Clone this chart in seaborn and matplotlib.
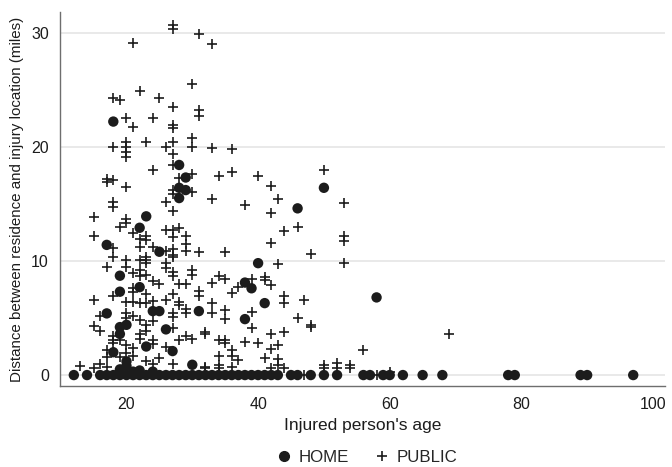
import matplotlib
matplotlib.use("Agg")
import matplotlib.pyplot as plt
from matplotlib.lines import Line2D
import seaborn as sns
import pandas as pd

# ---------------- data ----------------
home_age = [18, 28, 29, 28, 29, 28, 23, 22, 17, 25, 50, 46, 40, 38, 39, 41, 38, 58,
            19, 19, 22, 17, 19, 20, 19, 24, 25, 26, 23, 27, 18, 30, 31, 20,
            19, 20, 21, 22, 24]
home_dist = [22.2, 18.4, 17.3, 16.4, 16.2, 15.5, 13.9, 12.9, 11.4, 10.8, 16.4, 14.6, 9.8, 8.1, 7.6, 6.3, 4.9, 6.8,
             8.7, 7.3, 7.7, 5.4, 4.2, 4.4, 3.6, 5.6, 5.6, 4.0, 2.5, 2.1, 2.0, 0.9, 5.6, 1.2,
             0.5, 0.8, 0.3, 0.4, 0.3]
home_zero_age = [12, 14] + list(range(16, 44)) + [45, 46, 48, 50, 52, 56, 57, 59, 60, 62, 65, 68, 78, 79, 89, 90, 97]

public_age = [27, 27, 31, 33, 21, 30, 22, 18, 19, 25, 27, 31, 31, 20, 24, 21, 27, 27, 30,
              18, 20, 20, 23, 26, 27, 30, 20, 20, 27, 27, 24, 28, 30, 17, 17, 18, 20, 27, 27, 30,
              26, 18, 18, 27, 15, 20, 20, 19, 21, 15, 26, 27, 28, 27, 29, 29, 22, 22, 23, 23, 24,
              26, 27, 27, 29, 31, 18, 18, 23,
              33, 36, 34, 36, 40, 42, 50, 33, 38, 43, 42, 53, 46, 44, 53, 53, 42, 35, 48,
              43, 53, 33, 34, 35, 36, 37, 39, 41, 41, 42, 44, 44, 47, 33, 33, 35, 35, 39, 46,
              48, 48, 32, 32, 39, 44, 42, 34, 35, 35, 38, 40, 42, 43, 36, 36, 34, 37, 41, 43,
              43, 32, 34, 34, 36, 42, 44, 50, 50, 52, 52, 54, 54, 47,
              56, 69, 58, 60,
              17, 20, 20, 22, 23, 23, 26, 26, 27, 30, 30, 21, 22, 22, 23, 27, 27, 24, 25, 28,
              29, 21, 21, 23, 18, 15, 20, 21, 22, 23, 24, 26, 28, 28, 27, 31, 31, 29, 29, 27,
              27, 16, 20, 20, 21, 22, 24, 23, 23, 15, 16, 27, 28, 29, 30, 18, 18, 18, 19, 22,
              22, 24, 24, 20, 21, 26, 25, 17, 17, 19, 20, 21, 23, 24, 27, 16, 15, 13, 17, 32]
public_dist = [30.7, 30.3, 29.9, 29.0, 29.1, 25.5, 24.9, 24.3, 24.1, 24.3, 23.5, 23.2, 22.7, 22.5, 22.5, 21.7, 21.9, 21.6, 20.8,
               20.0, 20.4, 20.0, 20.4, 20.0, 20.4, 20.0, 19.5, 19.1, 19.4, 18.4, 18.0, 17.3, 17.6, 17.2, 16.9, 17.1, 16.5, 16.2, 15.9, 16.0,
               15.2, 15.2, 14.7, 14.4, 13.8, 13.7, 13.3, 13.0, 12.4, 12.2, 12.7, 12.7, 12.9, 12.1, 12.2, 11.5, 11.9, 11.2, 12.2, 11.8, 11.2,
               10.9, 11.0, 10.5, 10.9, 10.8, 11.1, 10.3, 10.3,
               19.9, 19.8, 17.4, 17.8, 17.4, 16.6, 18.0, 15.4, 14.9, 15.4, 14.2, 15.1, 13.0, 12.6, 12.2, 11.7, 11.6, 10.8, 10.6,
               9.7, 9.8, 8.1, 8.7, 8.4, 7.2, 7.7, 8.4, 8.6, 8.3, 7.9, 6.9, 6.3, 6.6, 6.3, 5.4, 5.7, 4.9, 5.5, 5.0,
               4.4, 4.2, 3.8, 3.6, 4.1, 3.8, 3.6, 3.1, 2.8, 3.1, 2.9, 2.8, 2.3, 2.6, 2.2, 1.7, 1.7, 1.3, 1.5, 1.4,
               0.9, 0.7, 0.9, 0.6, 0.7, 0.6, 0.6, 0.9, 0.6, 1.1, 0.6, 0.9, 0.6, 0.0,
               2.2, 3.6, 0.0, 0.3,
               9.5, 10.1, 9.5, 10.1, 10.1, 9.8, 9.8, 9.4, 10.3, 9.2, 8.8, 8.9, 9.2, 8.7, 8.8, 9.0, 8.7, 8.2, 8.0, 8.0,
               8.0, 7.6, 7.3, 7.1, 6.9, 6.6, 6.4, 6.4, 6.3, 6.3, 6.5, 6.6, 6.4, 6.1, 7.1, 7.4, 6.9, 5.8, 5.4, 5.4,
               5.1, 5.2, 5.4, 5.0, 5.2, 4.8, 4.7, 4.4, 3.9, 4.3, 3.9, 4.1, 3.1, 3.4, 3.2, 3.4, 3.1, 2.8, 3.1, 3.6,
               3.2, 3.1, 2.7, 2.6, 2.4, 2.5, 1.5, 2.2, 1.6, 1.6, 1.9, 1.7, 1.2, 1.0, 1.0, 1.0, 0.6, 0.8, 0.7, 0.6]

x_ticks = [20, 40, 60, 80, 100]
y_ticks = [0, 10, 20, 30]
labels = ["HOME", "PUBLIC"]

home_df = pd.DataFrame({
    "age": home_age + home_zero_age,
    "dist": home_dist + [0.0] * len(home_zero_age),
    "loc": labels[0],
})
public_df = pd.DataFrame({"age": public_age, "dist": public_dist, "loc": labels[1]})

# ---------------- style ----------------
sns.set_style("white")
plt.rcParams["font.family"] = ["Liberation Sans", "DejaVu Sans"]

fig = plt.figure(figsize=(6.72, 4.67), dpi=100)
ax = fig.add_axes([0.0893, 0.1734, 0.900, 0.801])

for y in y_ticks:
    ax.axhline(y, color="#e9e9e9", lw=1.4, zorder=0)

sns.scatterplot(data=home_df, x="age", y="dist", marker="o", s=56, color="#1c1c1c",
                edgecolor="none", ax=ax, zorder=3, legend=False)
sns.scatterplot(data=public_df, x="age", y="dist", marker="+", s=46, color="#1c1c1c",
                linewidth=1.2, ax=ax, zorder=3, legend=False)

ax.set_xlim(9.9, 101.8)
ax.set_ylim(-0.96, 31.8)
ax.set_xticks(x_ticks)
ax.set_yticks(y_ticks)
ax.tick_params(axis="both", direction="out", length=5, width=1, color="#6e6e6e",
               labelsize=11.5, labelcolor="#1c1c1c", pad=3)
for s in ["top", "right"]:
    ax.spines[s].set_visible(False)
for s in ["left", "bottom"]:
    ax.spines[s].set_color("#6e6e6e")
    ax.spines[s].set_linewidth(1.0)

ax.set_xlabel("Injured person's age", fontsize=12.5, color="#1c1c1c", labelpad=4)
ax.set_ylabel("Distance between residence and injury location (miles)", fontsize=10.9,
              color="#1c1c1c", labelpad=5)

handles = [
    Line2D([], [], marker="o", color="#1c1c1c", linestyle="none", markersize=7),
    Line2D([], [], marker="+", color="#1c1c1c", linestyle="none", markersize=7.5, markeredgewidth=1.2),
]
fig.legend(handles, labels, loc="lower center", bbox_to_anchor=(0.544, -0.028), ncol=2,
           frameon=False, fontsize=12.2, handletextpad=0.3, columnspacing=1.3, handlelength=1.2)

fig.savefig("out.png", dpi=100)
